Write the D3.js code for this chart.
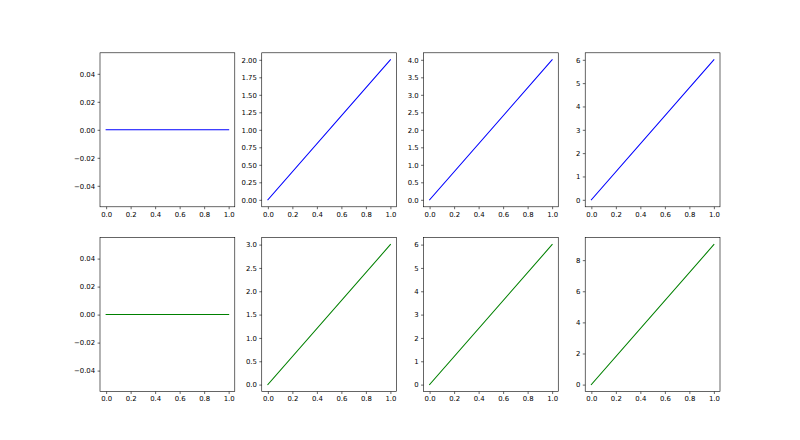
<!DOCTYPE html>
<html>
<head>
<meta charset="utf-8">
<script src="https://cdn.jsdelivr.net/npm/d3@7"></script>
<style>
  html, body { margin: 0; padding: 0; background: #fff; }
  svg { display: block; }
</style>
</head>
<body>
<svg id="chart" width="800" height="440"></svg>
<script>
// ---- data ----
const xValues = [0, 1];
const topRowSeries = [[0, 0], [0, 2], [0, 4], [0, 6]];
const bottomRowSeries = [[0, 0], [0, 3], [0, 6], [0, 9]];
const rowColors = ["#0000ff", "#008000"];
const xTicks = [0, 0.2, 0.4, 0.6, 0.8, 1.0];
const xTickLabels = ["0.0", "0.2", "0.4", "0.6", "0.8", "1.0"];
const topYTicks = [
  [-0.04, -0.02, 0, 0.02, 0.04],
  [0, 0.25, 0.5, 0.75, 1, 1.25, 1.5, 1.75, 2],
  [0, 0.5, 1, 1.5, 2, 2.5, 3, 3.5, 4],
  [0, 1, 2, 3, 4, 5, 6]
];
const topYLabels = [
  ["\u22120.04", "\u22120.02", "0.00", "0.02", "0.04"],
  ["0.00", "0.25", "0.50", "0.75", "1.00", "1.25", "1.50", "1.75", "2.00"],
  ["0.0", "0.5", "1.0", "1.5", "2.0", "2.5", "3.0", "3.5", "4.0"],
  ["0", "1", "2", "3", "4", "5", "6"]
];
const bottomYTicks = [
  [-0.04, -0.02, 0, 0.02, 0.04],
  [0, 0.5, 1, 1.5, 2, 2.5, 3],
  [0, 1, 2, 3, 4, 5, 6],
  [0, 2, 4, 6, 8]
];
const bottomYLabels = [
  ["\u22120.04", "\u22120.02", "0.00", "0.02", "0.04"],
  ["0.0", "0.5", "1.0", "1.5", "2.0", "2.5", "3.0"],
  ["0", "1", "2", "3", "4", "5", "6"],
  ["0", "2", "4", "6", "8"]
];

// ---- layout (matplotlib default subplot params) ----
const W = 800, H = 440;
const padL = 0.125 * W, padR = 0.9 * W, padT = (1 - 0.88) * H, padB = (1 - 0.11) * H;
const ncols = 4, nrows = 2, wspace = 0.2, hspace = 0.2;
const cw = (padR - padL) / (ncols + (ncols - 1) * wspace);
const ch = (padB - padT) / (nrows + (nrows - 1) * hspace);
const fontSize = 6.9, tickLen = 2.43, tickPad = 2.43;

const svg = d3.select("#chart");
const rows = [
  { series: topRowSeries, ticks: topYTicks, labels: topYLabels, color: rowColors[0] },
  { series: bottomRowSeries, ticks: bottomYTicks, labels: bottomYLabels, color: rowColors[1] }
];

function lims(vals) {
  let lo = d3.min(vals), hi = d3.max(vals);
  if (lo === hi) { lo -= 0.05; hi += 0.05; }
  const m = (hi - lo) * 0.05;
  return [lo - m, hi + m];
}

rows.forEach((row, r) => {
  row.series.forEach((ys, c) => {
    const x0 = padL + c * cw * (1 + wspace);
    const y0 = padT + r * ch * (1 + hspace);
    const g = svg.append("g").attr("transform", `translate(${x0},${y0})`);
    const x = d3.scaleLinear().domain(lims(xValues)).range([0, cw]);
    const y = d3.scaleLinear().domain(lims(ys)).range([ch, 0]);

    const pts = xValues.map((xv, i) => [xv, ys[i]]);
    g.append("path")
      .datum(pts)
      .attr("fill", "none")
      .attr("stroke", row.color)
      .attr("stroke-width", 1.04)
      .attr("stroke-linecap", "square")
      .attr("d", d3.line().x(d => x(d[0])).y(d => y(d[1])));

    g.append("rect")
      .attr("x", 0).attr("y", 0).attr("width", cw).attr("height", ch)
      .attr("fill", "none").attr("stroke", "#000").attr("stroke-width", 0.6);

    const xa = g.append("g").attr("transform", `translate(0,${ch})`)
      .call(d3.axisBottom(x).tickValues(xTicks)
        .tickFormat((d, i) => xTickLabels[i])
        .tickSizeInner(tickLen).tickSizeOuter(0).tickPadding(tickPad));
    const ya = g.append("g")
      .call(d3.axisLeft(y).tickValues(row.ticks[c])
        .tickFormat((d, i) => row.labels[c][i])
        .tickSizeInner(tickLen).tickSizeOuter(0).tickPadding(tickPad));
    [xa, ya].forEach(a => {
      a.select(".domain").remove();
      a.selectAll("line").attr("stroke", "#000").attr("stroke-width", 0.6);
      a.selectAll("text").attr("fill", "#000")
        .style("font-family", "'DejaVu Sans', sans-serif")
        .style("font-size", fontSize + "px");
    });
  });
});
</script>
</body>
</html>
